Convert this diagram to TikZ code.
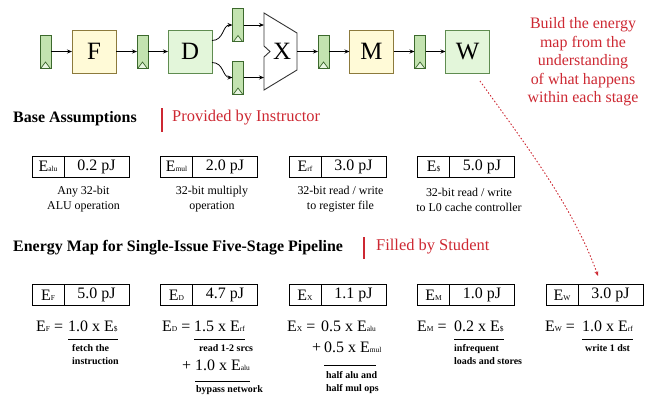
\documentclass[tikz,border=0pt]{standalone}
\usepackage{fontspec}
\setmainfont{Liberation Serif}
\usetikzlibrary{arrows.meta,calc}

\definecolor{fetchfill}{RGB}{255,250,215}
\definecolor{fetchline}{RGB}{140,122,60}
\definecolor{decfill}{RGB}{227,246,218}
\definecolor{decline}{RGB}{95,140,80}
\definecolor{regfill}{RGB}{195,227,176}
\definecolor{regline}{RGB}{60,105,45}
\definecolor{clkfill}{RGB}{232,245,225}
\definecolor{notered}{RGB}{205,40,50}

\newcommand{\fs}[1]{\fontsize{#1}{#1}\selectfont}
\newcommand{\En}[1]{E{\fs{7.5}#1}}

\tikzset{
  reg/.style={draw=regline, fill=regfill, line width=0.9bp,
    minimum width=11bp, minimum height=33bp, inner sep=0, outer sep=0,
    path picture={\draw[regline, fill=clkfill, line width=0.7bp]
      ([xshift=1bp]path picture bounding box.south west) --
      ([yshift=6bp]path picture bounding box.south) --
      ([xshift=-1bp]path picture bounding box.south east);}},
  stagebox/.style={line width=1bp, minimum width=44bp, minimum height=43bp,
    inner sep=0, outer sep=0, font=\fs{25}},
  ystage/.style={stagebox, draw=fetchline, fill=fetchfill},
  gstage/.style={stagebox, draw=decline, fill=decfill},
  wire/.style={line width=0.8bp, -{Stealth[length=5bp,width=4bp]}},
  heading/.style={anchor=west, inner sep=0, font=\bfseries\fs{16}},
  redhead/.style={anchor=west, inner sep=0, text=notered, font=\fs{16.5}},
  redbar/.style={draw=notered, line width=1.4bp},
  labcell/.style={draw, line width=0.8bp, minimum width=32bp, minimum height=21bp,
    inner sep=0, outer sep=0, font=\fs{16}},
  valcell/.style={draw, line width=0.8bp, minimum width=65bp, minimum height=21bp,
    inner sep=0, outer sep=0, font=\fs{16}, anchor=west},
  desc/.style={align=center, inner sep=0, font=\fontsize{12}{15}\selectfont},
  eqn/.style={anchor=base west, inner sep=0, font=\fs{16}},
  term/.style={anchor=base west, inner xsep=0, inner ysep=0, font=\fs{16}},
  uline/.style={line width=0.8bp},
  remark/.style={anchor=base west, align=left, inner sep=0,
    font=\bfseries\fontsize{10}{13}\selectfont},
}

\begin{document}
\begin{tikzpicture}[x=1bp, y=-1bp]
\useasboundingbox (0,0) rectangle (652,398);

% ---- pipeline ----
\node[reg] (r0) at (45.5,51.5) {};
\node[ystage] (F) at (94,51.5) {F};
\node[reg] (r1) at (142.5,51.5) {};
\node[gstage] (D) at (190,51.5) {D};
\node[reg] (r2a) at (238,25) {};
\node[reg] (r2b) at (238,77.5) {};

% execute-stage mux
\draw[line width=0.9bp, draw=black!80, fill=white]
  (264,13) -- (297,33) -- (297,70) -- (264,90) -- (264,57) -- (270,51.5)
  -- (264,46) -- cycle;
\node[font=\fs{25}, inner sep=0] (X) at (282,51.5) {X};
\coordinate (xa) at (264,25);
\coordinate (xb) at (264,77.5);
\coordinate (xo) at (297,51.5);

\node[reg] (r3) at (323.5,51.5) {};
\node[ystage] (M) at (371.5,51.5) {M};
\node[reg] (r4) at (420,51.5) {};
\node[gstage] (W) at (467.5,51.5) {W};

\draw[wire] (r0) -- (F);
\draw[wire] (F) -- (r1);
\draw[wire] (r1) -- (D);
\draw[wire] ([yshift=11bp]D.east) .. controls +(12,0) and +(-10,0) .. (r2a.west);
\draw[wire] ([yshift=-11bp]D.east) .. controls +(12,0) and +(-10,0) .. (r2b.west);
\draw[wire] (r2a) -- (xa);
\draw[wire] (r2b) -- (xb);
\draw[wire] (xo) -- (r3);
\draw[wire] (r3) -- (M);
\draw[wire] (M) -- (r4);
\draw[wire] (r4) -- (W);

% ---- side remark ----
\node[align=center, inner sep=0, text=notered, font=\fontsize{16}{18.5}\selectfont]
  (hint) at (583,62) {Build the energy\\map from the\\understanding\\of what happens\\within each stage};
\coordinate (hintA) at (480,81);
\coordinate (hintB) at (598,276);
\draw[notered, line width=0.9bp, dash pattern=on 1.5bp off 2bp,
  -{Stealth[length=5bp,width=4bp]}]
  (hintA) .. controls (525,144) and (573,206) .. (hintB);

% ---- base assumptions ----
\node[heading] (baseT) at (13,119) {Base Assumptions};
\draw[redbar] (162,108) -- (162,132);
\node[redhead] (baseR) at (172,118) {Provided by Instructor};

\node[labcell] (b1) at (48,166.5) {\En{alu}};
\node[valcell] (b1v) at (b1.east) {0.2 pJ};
\node[labcell] (b2) at (176.5,166.5) {\En{mul}};
\node[valcell] (b2v) at (b2.east) {2.0 pJ};
\node[labcell] (b3) at (305,166.5) {\En{rf}};
\node[valcell] (b3v) at (b3.east) {3.0 pJ};
\node[labcell] (b4) at (433.5,166.5) {\En{\$}};
\node[valcell] (b4v) at (b4.east) {5.0 pJ};

\node[desc] (d1) at (83.5,199.5) {Any 32-bit\\ALU operation};
\node[desc] (d2) at (212,199.5) {32-bit multiply\\operation};
\node[desc] (d3) at (340.5,199.5) {32-bit read / write\\to register file};
\node[desc] (d4) at (469,199.5) {32-bit read / write\\to L0 cache controller};

% ---- energy map ----
\node[heading] (mapT) at (13,248) {Energy Map for Single-Issue Five-Stage Pipeline};
\draw[redbar] (364,237) -- (364,259);
\node[redhead] (mapR) at (376,247) {Filled by Student};

\node[labcell] (e1) at (48,295) {\En{F}};
\node[valcell] (e1v) at (e1.east) {5.0 pJ};
\node[labcell] (e2) at (176.5,295) {\En{D}};
\node[valcell] (e2v) at (e2.east) {4.7 pJ};
\node[labcell] (e3) at (305,295) {\En{X}};
\node[valcell] (e3v) at (e3.east) {1.1 pJ};
\node[labcell] (e4) at (433.5,295) {\En{M}};
\node[valcell] (e4v) at (e4.east) {1.0 pJ};
\node[labcell] (e5) at (562,295) {\En{W}};
\node[valcell] (e5v) at (e5.east) {3.0 pJ};

% fetch
\node[eqn] (qF) at (36,331) {\En{F} =};
\node[term, text depth=8bp] (tF) at (68,331) {1.0 x \En{\$}};
\draw[uline] (tF.south west) -- (tF.south east);
\node[remark] (nF) at (72,364) {fetch the\\instruction};

% decode
\node[eqn] (qD) at (162,331) {\En{D} =};
\node[term, text depth=8bp] (tD1) at (194,331) {1.5 x \En{rf}};
\draw[uline] (tD1.south west) -- (tD1.south east);
\node[remark] (nD1) at (199,351) {read 1-2 srcs};
\node[eqn] (pD) at (182,370) {+};
\node[term, text depth=11bp] (tD2) at (195,370) {1.0 x \En{alu}};
\draw[uline] (tD2.south west) -- (tD2.south east);
\node[remark] (nD2) at (196,392) {bypass network};

% execute
\node[eqn] (qX) at (287,331) {\En{X} =};
\node[term] (tX1) at (321,331) {0.5 x \En{alu}};
\node[eqn] (pX) at (312,352) {+};
\node[term, text depth=13bp] (tX2) at (324,352) {0.5 x \En{mul}};
\draw[uline] (tX2.south west) -- ([xshift=52bp]tX2.south west);
\node[remark] (nX) at (326,391) {half alu and\\half mul ops};

% memory
\node[eqn] (qM) at (417,331) {\En{M} =};
\node[term, text depth=8bp] (tM) at (454,331) {0.2 x \En{\$}};
\draw[uline] (tM.south west) -- (tM.south east);
\node[remark] (nM) at (454,364) {infrequent\\loads and stores};

% writeback
\node[eqn] (qW) at (545,331) {\En{W} =};
\node[term, text depth=8bp] (tW) at (582,331) {1.0 x \En{rf}};
\draw[uline] (tW.south west) -- (tW.south east);
\node[remark] (nW) at (585,351) {write 1 dst};
\end{tikzpicture}
\end{document}
